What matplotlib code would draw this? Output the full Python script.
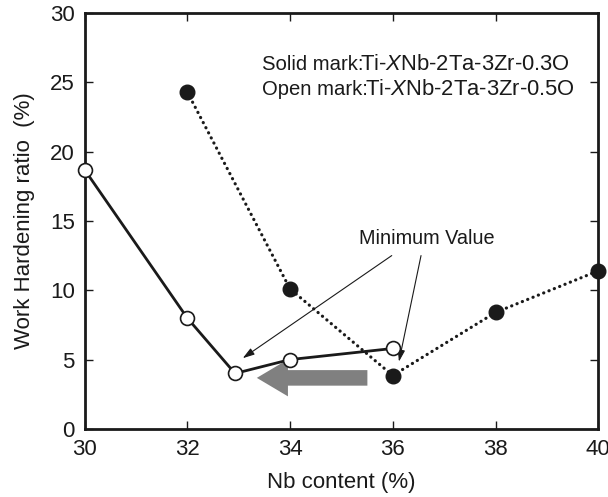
import matplotlib
matplotlib.use("Agg")
import matplotlib.pyplot as plt
from matplotlib.patches import FancyArrowPatch

plt.rcParams['font.family'] = ['Liberation Sans', 'DejaVu Sans']
plt.rcParams['mathtext.fontset'] = 'custom'
plt.rcParams['mathtext.rm'] = 'Liberation Sans'
plt.rcParams['mathtext.it'] = 'Liberation Sans:italic'

# Ti-XNb-2Ta-3Zr-0.3O (solid marks, dotted line)
nb_solid = [32, 34, 36, 38, 40]
whr_solid = [24.3, 10.1, 3.85, 8.4, 11.4]

# Ti-XNb-2Ta-3Zr-0.5O (open marks, solid line)
nb_open = [30, 32, 32.93, 34, 36]
whr_open = [18.7, 8.0, 4.0, 5.0, 5.8]

x_ticks = [30, 32, 34, 36, 38, 40]
y_ticks = [0, 5, 10, 15, 20, 25, 30]

INK = '#1a1a1a'

fig = plt.figure(figsize=(6.08, 4.97), dpi=100)
ax = fig.add_axes([0.139, 0.137, 0.845, 0.837])

ax.plot(nb_solid, whr_solid, linestyle=(0, (0.05, 1.75)), dash_capstyle='round',
        color=INK, linewidth=2.3, marker='o', markersize=10.5,
        markerfacecolor=INK, markeredgecolor=INK, zorder=3, clip_on=False)
ax.plot(nb_open, whr_open, linestyle='-', color=INK, linewidth=2.0,
        marker='o', markersize=10, markerfacecolor='white',
        markeredgecolor=INK, markeredgewidth=1.2, zorder=4, clip_on=False)

# grey arrow pointing to the lower Nb side
ax.add_patch(FancyArrowPatch((35.56, 3.68), (33.3, 3.68),
                             arrowstyle='simple,head_width=1.9,head_length=1.6,tail_width=0.8',
                             mutation_scale=14, color='#808080', lw=0, zorder=2))

ax.text(36.67, 13.75, 'Minimum Value', ha='center', va='center', fontsize=14.3, color=INK)
for start, tip in [((35.98, 12.5), (33.08, 5.1)), ((36.55, 12.5), (36.12, 4.85))]:
    ax.annotate('', xy=tip, xytext=start,
                arrowprops=dict(arrowstyle='-|>,head_length=0.7,head_width=0.22',
                                color=INK, lw=0.8, shrinkA=0, shrinkB=0))


def note(y, kind, oxygen):
    # small "kind" label followed right away by the alloy name
    t = ax.text(33.45, y, kind, fontsize=14.6, va='baseline', ha='left', color=INK)
    fig.canvas.draw()
    bb = t.get_window_extent()
    x = ax.transData.inverted().transform((bb.x1 - 12, bb.y0))[0]
    ax.text(x, y, r'Ti-$\mathit{X}$Nb-2Ta-3Zr-' + oxygen, fontsize=15.8,
            va='baseline', ha='left', color=INK)


note(25.85, 'Solid mark:', '0.3O')
note(24.05, 'Open mark:', '0.5O')

ax.set_xlim(30, 40)
ax.set_ylim(0, 30)
ax.set_xticks(x_ticks)
ax.set_yticks(y_ticks)
ax.tick_params(direction='in', length=6, width=1.0, top=True, right=True,
               labelsize=16, pad=7, colors=INK)
for s in ax.spines.values():
    s.set_linewidth(2.0)
    s.set_color(INK)

ax.set_xlabel('Nb content (%)', fontsize=16, labelpad=9, color=INK)
ax.set_ylabel('Work Hardening ratio  (%)', fontsize=16, labelpad=11, color=INK)

fig.savefig('out.png', dpi=100)
